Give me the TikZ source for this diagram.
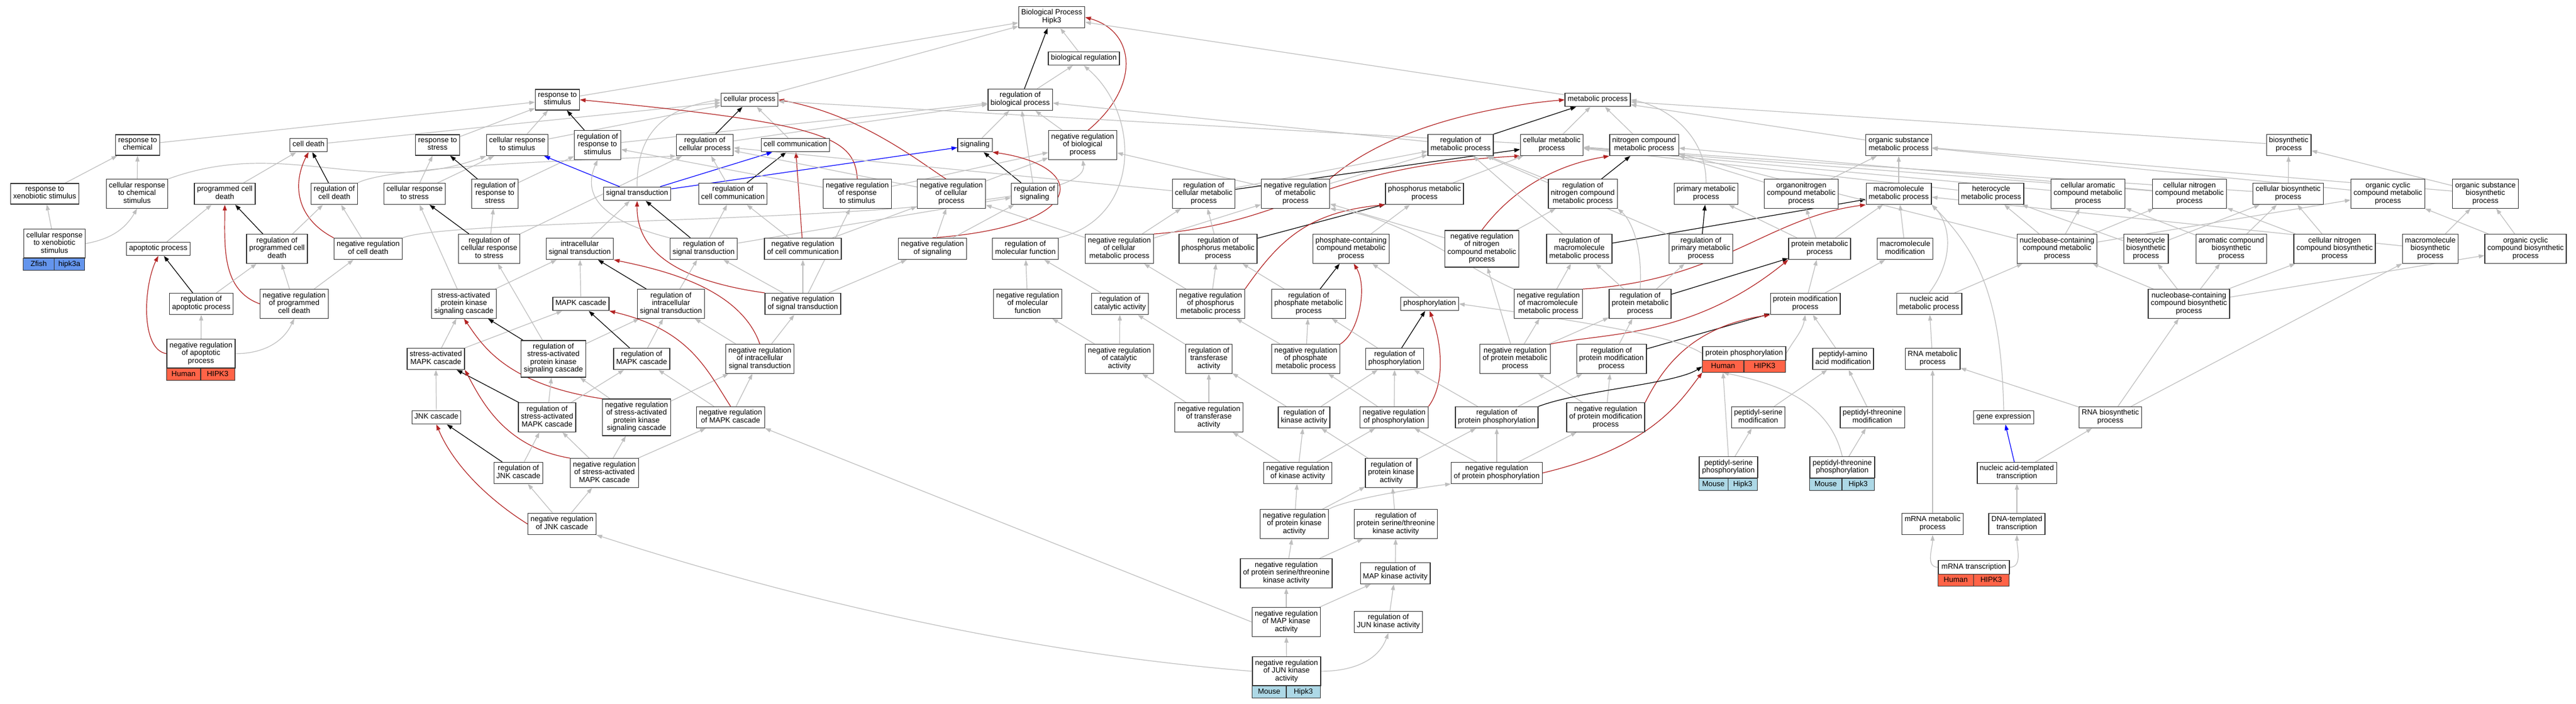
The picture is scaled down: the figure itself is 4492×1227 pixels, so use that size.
\documentclass[tikz,border=0pt]{standalone}
\usepackage{fontspec}
\setmainfont{Liberation Sans}
\usetikzlibrary{arrows.meta,backgrounds,positioning}
\definecolor{isagrey}{RGB}{190,190,190}
\definecolor{negred}{RGB}{178,34,34}
\definecolor{zfishblue}{RGB}{100,149,237}
\definecolor{humanred}{RGB}{255,99,71}
\definecolor{mouseblue}{RGB}{173,216,230}

\begin{document}
\begin{tikzpicture}[x=1pt,y=1pt,
    >={Triangle[length=10pt,width=7pt]},
    term/.style={draw=black!80,line width=1.3pt,fill=white,align=center,
      font=\fontsize{13}{13.5}\selectfont,inner xsep=4.5pt,inner ysep=5pt,
      execute at begin node=\strut,execute at end node=\strut},
    cell/.style={draw=black!80,line width=1.3pt,font=\fontsize{13}{13.5}\selectfont,
      inner sep=0pt,outer sep=0pt,minimum height=21pt,text height=9.5pt,
      text depth=2.5pt,anchor=north west},
    isa/.style={->,isagrey,line width=1.2pt},
    regs/.style={->,black,line width=1.2pt},
    negregs/.style={->,negred,line width=1.2pt},
    partof/.style={->,blue,line width=1.2pt}]
  \useasboundingbox (0,0) rectangle (4492,-1227);
  %% Top of the graph
  \node[term] (bp) at (1834,-30) {Biological Process\\Hipk3};
  \node[term] (bioreg) at (1890,-102) {biological regulation};
  \node[term] (rstim) at (972,-174) {response to\\stimulus};
  \node[term] (cellp) at (1307,-174) {cellular process};
  \node[term] (regbp) at (1779,-174) {regulation of\\biological process};
  \node[term] (metp) at (2786,-174) {metabolic process};
  %% Row D
  \node[term] (rchem) at (240,-253) {response to\\chemical};
  \node[term] (cdeath) at (538,-253) {cell death};
  \node[term] (rstress) at (763,-253) {response to\\stress};
  \node[term] (crstim) at (902,-253) {cellular response\\to stimulus};
  \node[term] (regrstim) at (1042,-253) {regulation of\\response to\\stimulus};
  \node[term] (regcellp) at (1229,-253) {regulation of\\cellular process};
  \node[term] (ccomm) at (1387,-253) {cell communication};
  \node[term] (signaling) at (1700,-253) {signaling};
  \node[term] (nregbp) at (1888,-253) {negative regulation\\of biological\\process};
  \node[term] (regmet) at (2547,-253) {regulation of\\metabolic process};
  \node[term] (cmet) at (2706,-253) {cellular metabolic\\process};
  \node[term] (ncmet) at (2867,-253) {nitrogen compound\\metabolic process};
  \node[term] (osmet) at (3311,-253) {organic substance\\metabolic process};
  \node[term] (biosyn) at (3991,-253) {biosynthetic\\process};
  %% Row E
  \node[term] (rxeno) at (78,-338) {response to\\xenobiotic stimulus};
  \node[term] (crchem) at (239,-338) {cellular response\\to chemical\\stimulus};
  \node[term] (pcd) at (392,-338) {programmed cell\\death};
  \node[term] (regcd) at (583,-338) {regulation of\\cell death};
  \node[term] (crstress) at (723,-338) {cellular response\\to stress};
  \node[term] (regrstress) at (863,-338) {regulation of\\response to\\stress};
  \node[term] (sigtr) at (1111,-338) {signal transduction};
  \node[term] (regccomm) at (1278,-338) {regulation of\\cell communication};
  \node[term] (nregrstim) at (1495,-338) {negative regulation\\of response\\to stimulus};
  \node[term] (nregcellp) at (1659,-338) {negative regulation\\of cellular\\process};
  \node[term] (regsig) at (1804,-338) {regulation of\\signaling};
  \node[term] (regcmet) at (2099,-338) {regulation of\\cellular metabolic\\process};
  \node[term] (nregmet) at (2259,-338) {negative regulation\\of metabolic\\process};
  \node[term] (phosmet) at (2484,-338) {phosphorus metabolic\\process};
  \node[term] (regncmet) at (2760,-338) {regulation of\\nitrogen compound\\metabolic process};
  \node[term] (primet) at (2975,-338) {primary metabolic\\process};
  \node[term] (onmet) at (3141,-338) {organonitrogen\\compound metabolic\\process};
  \node[term] (mmmet) at (3311,-338) {macromolecule\\metabolic process};
  \node[term] (hetmet) at (3472,-338) {heterocycle\\metabolic process};
  \node[term] (camet) at (3641,-338) {cellular aromatic\\compound metabolic\\process};
  \node[term] (cnmet) at (3818,-338) {cellular nitrogen\\compound metabolic\\process};
  \node[term] (cbio) at (3990,-338) {cellular biosynthetic\\process};
  \node[term] (ocmet) at (4164,-338) {organic cyclic\\compound metabolic\\process};
  \node[term] (osbio) at (4334,-338) {organic substance\\biosynthetic\\process};
  %% Row F
  \node[term,minimum width=107pt,anchor=north] (crxeno) at (95,-399) {cellular response\\to xenobiotic\\stimulus};
  \node[cell,fill=zfishblue,minimum width=53.5pt] (crxZ) at (crxeno.south west) {Zfish};
  \node[cell,fill=zfishblue,minimum width=53.5pt] (crxG) at (crxZ.north east) {hipk3a};
  \node[term] (apop) at (276,-434) {apoptotic process};
  \node[term] (regpcd) at (483,-434) {regulation of\\programmed cell\\death};
  \node[term] (nregcd) at (642,-434) {negative regulation\\of cell death};
  \node[term] (regcrstress) at (853,-434) {regulation of\\cellular response\\to stress};
  \node[term] (intra) at (1011,-434) {intracellular\\signal transduction};
  \node[term] (regsigtr) at (1227,-434) {regulation of\\signal transduction};
  \node[term] (nregccomm) at (1400,-434) {negative regulation\\of cell communication};
  \node[term] (nregsig) at (1626,-434) {negative regulation\\of signaling};
  \node[term] (regmf) at (1788,-434) {regulation of\\molecular function};
  \node[term] (nregcmet) at (1952,-434) {negative regulation\\of cellular\\metabolic process};
  \node[term] (regphosmet) at (2124,-434) {regulation of\\phosphorus metabolic\\process};
  \node[term] (phcmet) at (2356,-434) {phosphate-containing\\compound metabolic\\process};
  \node[term] (nregncmet) at (2584,-434) {negative regulation\\of nitrogen\\compound metabolic\\process};
  \node[term] (regmmmet) at (2754,-434) {regulation of\\macromolecule\\metabolic process};
  \node[term] (regprimet) at (2966,-434) {regulation of\\primary metabolic\\process};
  \node[term] (protmet) at (3173,-434) {protein metabolic\\process};
  \node[term] (mmmod) at (3322,-434) {macromolecule\\modification};
  \node[term] (nbmet) at (3587,-434) {nucleobase-containing\\compound metabolic\\process};
  \node[term] (hetbio) at (3742,-434) {heterocycle\\biosynthetic\\process};
  \node[term] (arbio) at (3891,-434) {aromatic compound\\biosynthetic\\process};
  \node[term] (cnbio) at (4071,-434) {cellular nitrogen\\compound biosynthetic\\process};
  \node[term] (mmbio) at (4238,-434) {macromolecule\\biosynthetic\\process};
  \node[term] (ocbio) at (4404,-434) {organic cyclic\\compound biosynthetic\\process};
  %% Row G
  \node[term] (regapop) at (351,-530) {regulation of\\apoptotic process};
  \node[term] (nregpcd) at (513,-530) {negative regulation\\of programmed\\cell death};
  \node[term] (sapk) at (809,-530) {stress-activated\\protein kinase\\signaling cascade};
  \node[term] (mapk) at (1013,-530) {MAPK cascade};
  \node[term] (regintra) at (1170,-530) {regulation of\\intracellular\\signal transduction};
  \node[term] (nregsigtr) at (1400,-530) {negative regulation\\of signal transduction};
  \node[term] (nregmf) at (1792,-530) {negative regulation\\of molecular\\function};
  \node[term] (regcat) at (1953,-530) {regulation of\\catalytic activity};
  \node[term] (nregphosmet) at (2111,-530) {negative regulation\\of phosphorus\\metabolic process};
  \node[term] (regphmet) at (2282,-530) {regulation of\\phosphate metabolic\\process};
  \node[term] (phos) at (2493,-530) {phosphorylation};
  \node[term] (nregmmmet) at (2700,-530) {negative regulation\\of macromolecule\\metabolic process};
  \node[term] (regprotmet) at (2860,-530) {regulation of\\protein metabolic\\process};
  \node[term] (protmod) at (3148,-530) {protein modification\\process};
  \node[term] (namet) at (3364,-530) {nucleic acid\\metabolic process};
  \node[term] (nbbio) at (3817,-530) {nucleobase-containing\\compound biosynthetic\\process};
  %% Row H
  \node[term,minimum width=119pt,anchor=north] (nregapop) at (350.5,-591) {negative regulation\\of apoptotic\\process};
  \node[cell,fill=humanred,minimum width=59.5pt] (napH) at (nregapop.south west) {Human};
  \node[cell,fill=humanred,minimum width=59.5pt] (napG) at (napH.north east) {HIPK3};
  \node[term] (samapk) at (760,-626) {stress-activated\\MAPK cascade};
  \node[term] (regsapk) at (965,-626) {regulation of\\stress-activated\\protein kinase\\signaling cascade};
  \node[term] (regmapk) at (1119,-626) {regulation of\\MAPK cascade};
  \node[term] (nregintra) at (1325,-626) {negative regulation\\of intracellular\\signal transduction};
  \node[term] (nregcat) at (1952,-626) {negative regulation\\of catalytic\\activity};
  \node[term] (regtrans) at (2108,-626) {regulation of\\transferase\\activity};
  \node[term] (nregphmet) at (2277,-626) {negative regulation\\of phosphate\\metabolic process};
  \node[term] (regphos) at (2432,-626) {regulation of\\phosphorylation};
  \node[term] (nregprotmet) at (2642,-626) {negative regulation\\of protein metabolic\\process};
  \node[term] (regprotmod) at (2810,-626) {regulation of\\protein modification\\process};
  \node[term,minimum width=145pt,anchor=north] (protphos) at (3041.5,-604) {protein phosphorylation};
  \node[cell,fill=humanred,minimum width=72.5pt] (pphH) at (protphos.south west) {Human};
  \node[cell,fill=humanred,minimum width=72.5pt] (pphG) at (pphH.north east) {HIPK3};
  \node[term] (pepaa) at (3214,-626) {peptidyl-amino\\acid modification};
  \node[term] (rnamet) at (3370,-626) {RNA metabolic\\process};
  %% Row I
  \node[term] (jnk) at (761,-728) {JNK cascade};
  \node[term] (regsamapk) at (954,-728) {regulation of\\stress-activated\\MAPK cascade};
  \node[term] (nregsapk) at (1110,-728) {negative regulation\\of stress-activated\\protein kinase\\signaling cascade};
  \node[term] (nregmapk) at (1274,-728) {negative regulation\\of MAPK cascade};
  \node[term] (nregtrans) at (2108,-728) {negative regulation\\of transferase\\activity};
  \node[term] (regkin) at (2274,-728) {regulation of\\kinase activity};
  \node[term] (nregphos) at (2431,-728) {negative regulation\\of phosphorylation};
  \node[term] (regprotphos) at (2610,-728) {regulation of\\protein phosphorylation};
  \node[term] (nregprotmod) at (2800,-728) {negative regulation\\of protein modification\\process};
  \node[term] (pepser) at (3066,-728) {peptidyl-serine\\modification};
  \node[term] (pepthr) at (3265,-728) {peptidyl-threonine\\modification};
  \node[term] (geneexp) at (3494,-728) {gene expression};
  \node[term] (rnabio) at (3680,-728) {RNA biosynthetic\\process};
  %% Row J
  \node[term] (regjnk) at (904,-825) {regulation of\\JNK cascade};
  \node[term] (nregsamapk) at (1054,-825) {negative regulation\\of stress-activated\\MAPK cascade};
  \node[term] (nregkin) at (2263,-825) {negative regulation\\of kinase activity};
  \node[term] (regpk) at (2426,-825) {regulation of\\protein kinase\\activity};
  \node[term] (nregprotphos) at (2610,-825) {negative regulation\\of protein phosphorylation};
  \node[term,minimum width=102pt,anchor=north] (pserphos) at (3014,-796) {peptidyl-serine\\phosphorylation};
  \node[cell,fill=mouseblue,minimum width=51pt] (psM) at (pserphos.south west) {Mouse};
  \node[cell,fill=mouseblue,minimum width=51pt] (psG) at (psM.north east) {Hipk3};
  \node[term,minimum width=113pt,anchor=north] (pthrphos) at (3212.5,-796) {peptidyl-threonine\\phosphorylation};
  \node[cell,fill=mouseblue,minimum width=56.5pt] (ptM) at (pthrphos.south west) {Mouse};
  \node[cell,fill=mouseblue,minimum width=56.5pt] (ptG) at (ptM.north east) {Hipk3};
  \node[term] (natr) at (3517,-825) {nucleic acid-templated\\transcription};
  %% Rows K to N
  \node[term] (nregjnk) at (980,-914) {negative regulation\\of JNK cascade};
  \node[term] (nregpk) at (2257,-914) {negative regulation\\of protein kinase\\activity};
  \node[term] (regstk) at (2434,-914) {regulation of\\protein serine/threonine\\kinase activity};
  \node[term] (mrnamet) at (3370,-914) {mRNA metabolic\\process};
  \node[term] (dnatr) at (3517,-914) {DNA-templated\\transcription};
  \node[term] (nregstk) at (2243,-1000) {negative regulation\\of protein serine/threonine\\kinase activity};
  \node[term] (regmapkin) at (2433,-1000) {regulation of\\MAP kinase activity};
  \node[term,minimum width=124pt,anchor=north] (mrnatr) at (3442,-977) {mRNA transcription};
  \node[cell,fill=humanred,minimum width=62pt] (mtH) at (mrnatr.south west) {Human};
  \node[cell,fill=humanred,minimum width=62pt] (mtG) at (mtH.north east) {HIPK3};
  \node[term] (nregmapkin) at (2243,-1085) {negative regulation\\of MAP kinase\\activity};
  \node[term] (regjun) at (2421,-1085) {regulation of\\JUN kinase activity};
  \node[term,minimum width=119pt,anchor=north] (nregjun) at (2243.5,-1145) {negative regulation\\of JUN kinase\\activity};
  \node[cell,fill=mouseblue,minimum width=59.5pt] (njM) at (nregjun.south west) {Mouse};
  \node[cell,fill=mouseblue,minimum width=59.5pt] (njG) at (njM.north east) {Hipk3};

  \begin{pgfonlayer}{background}
  \fill[white] (0,0) rectangle (4492,-1227);
  %% Top arrows
  \draw[regs] (regbp) -- (bp);
  \draw[isa] (bioreg) -- (bp);
  \draw[negregs] (nregbp.70) .. controls (1990,-150) and (1980,-55) .. (bp.east);
  \draw[isa] (rstim) -- (bp);
  \draw[isa] (cellp) -- (bp);
  \draw[isa] (metp) -- (bp);
  \draw[isa] (regbp) -- (bioreg);
  \draw[isa] (nregbp) -- (regbp);
  \draw[isa] (regmf.north east) .. controls (1990,-380) and (1990,-200) .. (bioreg.south);
  %% Cell death and chemicals
  \draw[isa] (rxeno) -- (rchem);
  \draw[isa] (crchem) -- (rchem);
  \draw[isa] (crchem.north east) to[out=20,in=200] (crstim.south west);
  \draw[isa] (crxeno) -- (rxeno);
  \draw[isa] (crxeno.east) to[out=10,in=-120] (crchem.south);
  \draw[isa] (rchem) -- (rstim);
  \draw[isa] (cdeath) -- (cellp);
  \draw[isa] (pcd) -- (cdeath);
  \draw[regs] (regcd) -- (cdeath);
  \draw[isa] (regcd.north east) .. controls (680,-290) and (1000,-280) .. (regcellp.south west);
  \draw[negregs] (nregcd.north west) .. controls (515,-380) and (510,-320) .. (cdeath.south);
  \draw[isa] (nregcd) -- (regcd);
  \draw[isa] (nregcd.north east) .. controls (800,-375) and (1905,-395) .. (nregbp.south);
  \draw[isa] (apop) -- (pcd);
  \draw[regs] (regpcd) -- (pcd);
  \draw[isa] (regpcd) -- (regcd);
  \draw[negregs] (nregpcd.west) to[out=160,in=-90] (pcd.south);
  \draw[isa] (nregpcd) -- (regpcd);
  \draw[isa] (nregpcd) -- (nregcd);
  \draw[regs] (regapop) -- (apop);
  \draw[isa] (regapop) -- (regpcd);
  \draw[negregs] (nregapop.west) .. controls (245,-610) and (250,-500) .. (apop.south);
  \draw[isa] (nregapop) -- (regapop);
  \draw[isa] (nregapop.east) to[out=0,in=-115] (nregpcd.south);
  %% Stimulus and signalling
  \draw[isa] (rstress) -- (rstim);
  \draw[isa] (crstim) -- (rstim);
  \draw[isa] (crstim) -- (cellp);
  \draw[isa] (crstress) -- (rstress);
  \draw[isa] (crstress) -- (crstim);
  \draw[regs] (regrstim) -- (rstim);
  \draw[isa] (regrstim) -- (regbp);
  \draw[regs] (regrstress) -- (rstress);
  \draw[isa] (regrstress) -- (regrstim);
  \draw[regs] (regcrstress) -- (crstress);
  \draw[isa] (regcrstress) -- (regrstress);
  \draw[isa] (regcrstress) -- (regcellp);
  \draw[isa] (sapk) -- (intra);
  \draw[isa] (sapk) -- (crstress);
  \draw[isa] (mapk) -- (intra);
  \draw[isa] (intra) -- (sigtr);
  \draw[partof] (sigtr) -- (crstim);
  \draw[partof] (sigtr) -- (ccomm);
  \draw[partof] (sigtr) -- (signaling);
  \draw[isa] (sigtr.north) .. controls (1110,-240) and (1150,-190) .. (cellp.west);
  \draw[regs] (regsigtr) -- (sigtr);
  \draw[isa] (regsigtr) -- (regccomm);
  \draw[isa] (regsigtr.north west) .. controls (1030,-380) and (1020,-330) .. (regrstim.south);
  \draw[isa] (regsigtr) -- (regsig);
  \draw[regs] (regccomm) -- (ccomm);
  \draw[isa] (regccomm) -- (regcellp);
  \draw[isa] (ccomm) -- (cellp);
  \draw[regs] (regcellp) -- (cellp);
  \draw[isa] (regcellp) -- (regbp);
  \draw[negregs] (nregccomm) -- (ccomm);
  \draw[isa] (nregccomm) -- (regccomm);
  \draw[isa] (nregccomm) -- (nregcellp);
  \draw[negregs] (nregsigtr.north west) .. controls (1150,-485) and (1110,-420) .. (sigtr.south);
  \draw[isa] (nregsigtr) -- (regsigtr);
  \draw[isa] (nregsigtr) -- (nregccomm);
  \draw[isa] (nregsigtr) -- (nregsig);
  \draw[isa] (nregsigtr) -- (nregrstim);
  \draw[regs] (regintra) -- (intra);
  \draw[isa] (regintra) -- (regsigtr);
  \draw[negregs] (nregintra.north) .. controls (1290,-500) and (1150,-470) .. (intra.south east);
  \draw[isa] (nregintra) -- (regintra);
  \draw[isa] (nregintra) -- (nregsigtr);
  \draw[negregs] (nregrstim.north) .. controls (1490,-240) and (1440,-215) .. (rstim.east);
  \draw[isa] (nregrstim) -- (regrstim);
  \draw[isa] (nregrstim) -- (nregbp);
  \draw[negregs] (nregcellp.110) .. controls (1600,-280) and (1500,-200) .. (cellp.east);
  \draw[isa] (nregcellp) -- (regcellp);
  \draw[isa] (nregcellp) -- (nregbp);
  \draw[isa] (signaling) -- (regbp);
  \draw[regs] (regsig) -- (signaling);
  \draw[isa] (regsig) -- (regbp);
  \draw[negregs] (nregsig.north) .. controls (1900,-395) and (1900,-290) .. (signaling.south east);
  \draw[isa] (nregsig) -- (regsig);
  \draw[isa] (nregsig) -- (nregcellp);
  %% MAPK cascades
  \draw[isa] (samapk) -- (sapk);
  \draw[isa] (samapk) -- (mapk);
  \draw[isa] (jnk) -- (samapk);
  \draw[regs] (regsapk) -- (sapk);
  \draw[isa] (regsapk) -- (regintra);
  \draw[isa] (regsapk) -- (regcrstress);
  \draw[negregs] (nregsapk.north west) .. controls (880,-670) and (840,-600) .. (sapk.south);
  \draw[isa] (nregsapk) -- (regsapk);
  \draw[isa] (nregsapk) -- (nregintra);
  \draw[regs] (regmapk) -- (mapk);
  \draw[isa] (regmapk) -- (regintra);
  \draw[negregs] (nregmapk.north) .. controls (1230,-640) and (1200,-575) .. (mapk.south east);
  \draw[isa] (nregmapk) -- (regmapk);
  \draw[isa] (nregmapk) -- (nregintra);
  \draw[regs] (regsamapk) -- (samapk);
  \draw[isa] (regsamapk) -- (regsapk);
  \draw[isa] (regsamapk) -- (regmapk);
  \draw[negregs] (nregsamapk.north west) .. controls (880,-780) and (840,-700) .. (samapk.south east);
  \draw[isa] (nregsamapk) -- (regsamapk);
  \draw[isa] (nregsamapk) -- (nregsapk);
  \draw[isa] (nregsamapk) -- (nregmapk);
  \draw[regs] (regjnk) -- (jnk);
  \draw[isa] (regjnk) -- (regsamapk);
  \draw[negregs] (nregjnk.west) .. controls (850,-870) and (790,-810) .. (jnk.south);
  \draw[isa] (nregjnk) -- (regjnk);
  \draw[isa] (nregjnk) -- (nregsamapk);
  %% Molecular function and kinases
  \draw[isa] (nregmf) -- (regmf);
  \draw[isa] (regcat) -- (regmf);
  \draw[isa] (nregcat) -- (regcat);
  \draw[isa] (nregcat) -- (nregmf);
  \draw[isa] (regtrans) -- (regcat);
  \draw[isa] (nregtrans) -- (regtrans);
  \draw[isa] (nregtrans) -- (nregcat);
  \draw[isa] (regkin) -- (regtrans);
  \draw[isa] (regkin) -- (regphos);
  \draw[isa] (nregkin) -- (regkin);
  \draw[isa] (nregkin) -- (nregtrans);
  \draw[isa] (nregkin) -- (nregphos);
  \draw[isa] (regpk) -- (regkin);
  \draw[isa] (regpk) -- (regprotphos);
  \draw[isa] (nregpk) -- (nregkin);
  \draw[isa] (nregpk) -- (regpk);
  \draw[isa] (nregpk.north east) .. controls (2350,-870) and (2480,-850) .. (nregprotphos.south west);
  \draw[isa] (regstk) -- (regpk);
  \draw[isa] (nregstk) -- (nregpk);
  \draw[isa] (nregstk) -- (regstk);
  \draw[isa] (regmapkin) -- (regstk);
  \draw[isa] (nregmapkin) -- (nregstk);
  \draw[isa] (nregmapkin) -- (regmapkin);
  \draw[isa] (nregmapkin.west) -- (nregmapk.south east);
  \draw[isa] (regjun) -- (regmapkin);
  \draw[isa] (nregjun) -- (nregmapkin);
  \draw[isa] (nregjun.east) to[out=0,in=-110] (regjun.south);
  \draw[isa] (nregjun.west) .. controls (1800,-1140) and (1400,-1050) .. (nregjnk.south east);
  %% Metabolism
  \draw[regs] (regmet) -- (metp);
  \draw[isa] (regmet) -- (regbp);
  \draw[isa] (cmet) -- (metp);
  \draw[isa] (cmet) -- (cellp);
  \draw[isa] (ncmet) -- (metp);
  \draw[isa] (osmet) -- (metp);
  \draw[isa] (biosyn) -- (metp);
  \draw[isa] (primet.north) .. controls (2975,-230) and (2900,-185) .. (metp.east);
  \draw[negregs] (nregmet.north east) .. controls (2400,-240) and (2550,-190) .. (metp.west);
  \draw[isa] (nregmet) -- (regmet);
  \draw[isa] (nregmet) -- (nregbp);
  \draw[regs] (regcmet) -- (cmet);
  \draw[isa] (regcmet) -- (regmet);
  \draw[isa] (regcmet) -- (regcellp);
  \draw[negregs] (nregcmet.north east) .. controls (2250,-390) and (2300,-290) .. (cmet.south west);
  \draw[isa] (nregcmet) -- (regcmet);
  \draw[isa] (nregcmet) -- (nregmet);
  \draw[isa] (nregcmet) -- (nregcellp);
  \draw[isa] (phosmet) -- (cmet);
  \draw[regs] (regphosmet) -- (phosmet);
  \draw[isa] (regphosmet) -- (regcmet);
  \draw[negregs] (nregphosmet.north east) .. controls (2230,-420) and (2280,-370) .. (phosmet.south west);
  \draw[isa] (nregphosmet) -- (regphosmet);
  \draw[isa] (nregphosmet) -- (nregcmet);
  \draw[isa] (phcmet) -- (phosmet);
  \draw[regs] (regphmet) -- (phcmet);
  \draw[isa] (regphmet) -- (regphosmet);
  \draw[negregs] (nregphmet.north east) .. controls (2370,-580) and (2385,-500) .. (phcmet.-80);
  \draw[isa] (nregphmet) -- (regphmet);
  \draw[isa] (nregphmet) -- (nregphosmet);
  \draw[isa] (phos) -- (phcmet);
  \draw[regs] (regphos) -- (phos);
  \draw[isa] (regphos) -- (regphmet);
  \draw[negregs] (nregphos.north east) .. controls (2520,-670) and (2515,-600) .. (phos.south);
  \draw[isa] (nregphos) -- (regphos);
  \draw[isa] (nregphos) -- (nregphmet);
  \draw[regs] (regncmet) -- (ncmet);
  \draw[isa] (regncmet) -- (regmet);
  \draw[negregs] (nregncmet.north) .. controls (2630,-340) and (2700,-290) .. (ncmet.south west);
  \draw[isa] (nregncmet) -- (regncmet);
  \draw[isa] (nregncmet) -- (nregmet);
  \draw[isa] (regmmmet) -- (regmet);
  \draw[regs] (regmmmet) -- (mmmet);
  \draw[isa] (nregmmmet) -- (regmmmet);
  \draw[negregs] (nregmmmet.north east) .. controls (3000,-490) and (3080,-380) .. (mmmet.south west);
  \draw[isa] (nregmmmet.north west) .. controls (2560,-470) and (2450,-380) .. (nregmet.south east);
  \draw[regs] (regprimet) -- (primet);
  \draw[isa] (regprimet) -- (regmet);
  \draw[isa] (regprotmet) -- (regmmmet);
  \draw[isa] (regprotmet) -- (regprimet);
  \draw[regs] (regprotmet) -- (protmet);
  \draw[isa] (regprotmet.north) .. controls (2865,-420) and (2840,-380) .. (regncmet.south east);
  \draw[isa] (nregprotmet) -- (regprotmet);
  \draw[isa] (nregprotmet) -- (nregmmmet);
  \draw[negregs] (nregprotmet.north east) .. controls (2800,-580) and (2950,-590) .. (protmet.south west);
  \draw[isa] (nregprotmet) -- (nregncmet);
  \draw[isa] (regprotmod) -- (regprotmet);
  \draw[regs] (regprotmod) -- (protmod);
  \draw[isa] (nregprotmod) -- (regprotmod);
  \draw[isa] (nregprotmod) -- (nregprotmet);
  \draw[negregs] (nregprotmod.north east) .. controls (2900,-640) and (2950,-570) .. (protmod.south west);
  \draw[isa] (regprotphos) -- (regphos);
  \draw[isa] (regprotphos) -- (regprotmod);
  \draw[regs] (regprotphos.north east) .. controls (2760,-680) and (2920,-670) .. (pphH.west);
  \draw[isa] (nregprotphos) -- (regprotphos);
  \draw[isa] (nregprotphos) -- (nregphos);
  \draw[isa] (nregprotphos) -- (nregprotmod);
  \draw[negregs] (nregprotphos.east) .. controls (2880,-780) and (2930,-700) .. (pphH.south west);
  %% Proteins and nucleic acids
  \draw[isa] (protphos.west) .. controls (2940,-600) and (2900,-580) .. (phos.east);
  \draw[isa] (protphos.east) to[out=60,in=-100] (protmod.south);
  \draw[isa] (protmet) -- (mmmet);
  \draw[isa] (protmet) -- (onmet);
  \draw[isa] (protmet) -- (primet);
  \draw[isa] (protmod) -- (protmet);
  \draw[isa] (protmod) -- (mmmod);
  \draw[isa] (mmmod) -- (mmmet);
  \draw[isa] (pepaa) -- (protmod);
  \draw[isa] (pepser) -- (pepaa);
  \draw[isa] (pepthr) -- (pepaa);
  \draw[isa] (pserphos) -- (pepser);
  \draw[isa] (pserphos.north) -- (pphH.south);
  \draw[isa] (pthrphos) -- (pepthr);
  \draw[isa] (pthrphos.north) .. controls (3190,-700) and (3100,-670) .. (pphH.south);
  \draw[isa] (onmet) -- (osmet);
  \draw[isa] (onmet) -- (ncmet);
  \draw[isa] (mmmet) -- (osmet);
  \draw[isa] (hetmet) -- (cmet);
  \draw[isa] (camet) -- (cmet);
  \draw[isa] (cnmet) -- (cmet);
  \draw[isa] (cnmet) -- (ncmet);
  \draw[isa] (cbio) -- (biosyn);
  \draw[isa] (cbio) -- (cmet);
  \draw[isa] (ocmet) -- (osmet);
  \draw[isa] (osbio) -- (biosyn);
  \draw[isa] (osbio) -- (osmet);
  \draw[isa] (nbmet) -- (hetmet);
  \draw[isa] (nbmet) -- (camet);
  \draw[isa] (nbmet) -- (cnmet);
  \draw[isa] (nbmet) -- (ocmet);
  \draw[isa] (nbmet) -- (ncmet);
  \draw[isa] (namet) -- (nbmet);
  \draw[isa] (namet.north) .. controls (3410,-450) and (3400,-390) .. (mmmet.south east);
  \draw[isa] (rnamet) -- (namet);
  \draw[isa] (geneexp.north) .. controls (3490,-520) and (3450,-440) .. (mmmet.south east);
  \draw[isa] (mrnamet) -- (rnamet);
  \draw[isa] (rnabio) -- (rnamet);
  \draw[isa] (rnabio) -- (nbbio);
  \draw[isa] (rnabio) -- (mmbio);
  \draw[partof] (natr) -- (geneexp);
  \draw[isa] (natr) -- (rnabio);
  \draw[isa] (dnatr) -- (natr);
  \draw[isa] (mrnatr.west) to[out=180,in=-90] (mrnamet.south);
  \draw[isa] (mrnatr.east) to[out=0,in=-90] (dnatr.south);
  %% Biosynthesis
  \draw[isa] (nbbio) -- (nbmet);
  \draw[isa] (nbbio) -- (hetbio);
  \draw[isa] (nbbio) -- (arbio);
  \draw[isa] (nbbio) -- (cnbio);
  \draw[isa] (nbbio) -- (ocbio);
  \draw[isa] (hetbio) -- (cbio);
  \draw[isa] (hetbio) -- (hetmet);
  \draw[isa] (arbio) -- (cbio);
  \draw[isa] (arbio) -- (camet);
  \draw[isa] (cnbio) -- (cbio);
  \draw[isa] (cnbio) -- (cnmet);
  \draw[isa] (mmbio) -- (osbio);
  \draw[isa] (mmbio) -- (mmmet);
  \draw[isa] (ocbio) -- (osbio);
  \draw[isa] (ocbio) -- (ocmet);
  \end{pgfonlayer}
\end{tikzpicture}
\end{document}
